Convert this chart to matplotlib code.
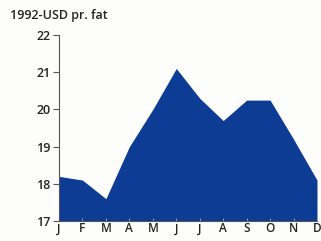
import matplotlib
matplotlib.use("Agg")
import matplotlib.pyplot as plt

months = ["J", "F", "M", "A", "M", "J", "J", "A", "S", "O", "N", "D"]
prices = [18.2, 18.1, 17.6, 19.0, 20.0, 21.1, 20.3, 19.7, 20.25, 20.25, 19.2, 18.1]
yticks = [17, 18, 19, 20, 21, 22]
ylabel = "1992-USD pr. fat"

plt.rcParams['font.family'] = ['Open Sans', 'DejaVu Sans']
fig = plt.figure(figsize=(3.21, 2.41), dpi=100)
fig.patch.set_facecolor('#fdfdfb')
ax = fig.add_axes([59/321, 20/241, 258/321, 186/241])
ax.set_facecolor('#fdfdfb')
x = list(range(len(months)))
ax.fill_between(x, 17, prices, color='#0c3c94', linewidth=0)
ax.set_xlim(0, 11)
ax.set_ylim(17, 22)
ax.set_yticks(yticks)
ax.set_yticklabels([str(t) for t in yticks], fontsize=9, color='#222222', fontweight='semibold')
ax.set_xticks(x)
ax.set_xticklabels(months, fontsize=8.5, color='#222222', fontweight='semibold')
for s in ['top', 'right']:
    ax.spines[s].set_visible(False)
ax.spines['left'].set_color('#555555')
ax.spines['bottom'].set_color('#555555')
ax.spines['left'].set_linewidth(0.8)
ax.spines['bottom'].set_linewidth(0.8)
ax.tick_params(axis='y', direction='out', length=4, width=0.8, color='#555555', pad=2)
ax.tick_params(axis='x', direction='in', length=2, width=0.6, color='#aaaaaa', pad=1)
fig.text(10/321, 1 - 16/241, ylabel, fontsize=9, color='#222222', va='center', ha='left',
         fontweight='semibold')
fig.savefig('out.png', dpi=100, facecolor=fig.get_facecolor())
